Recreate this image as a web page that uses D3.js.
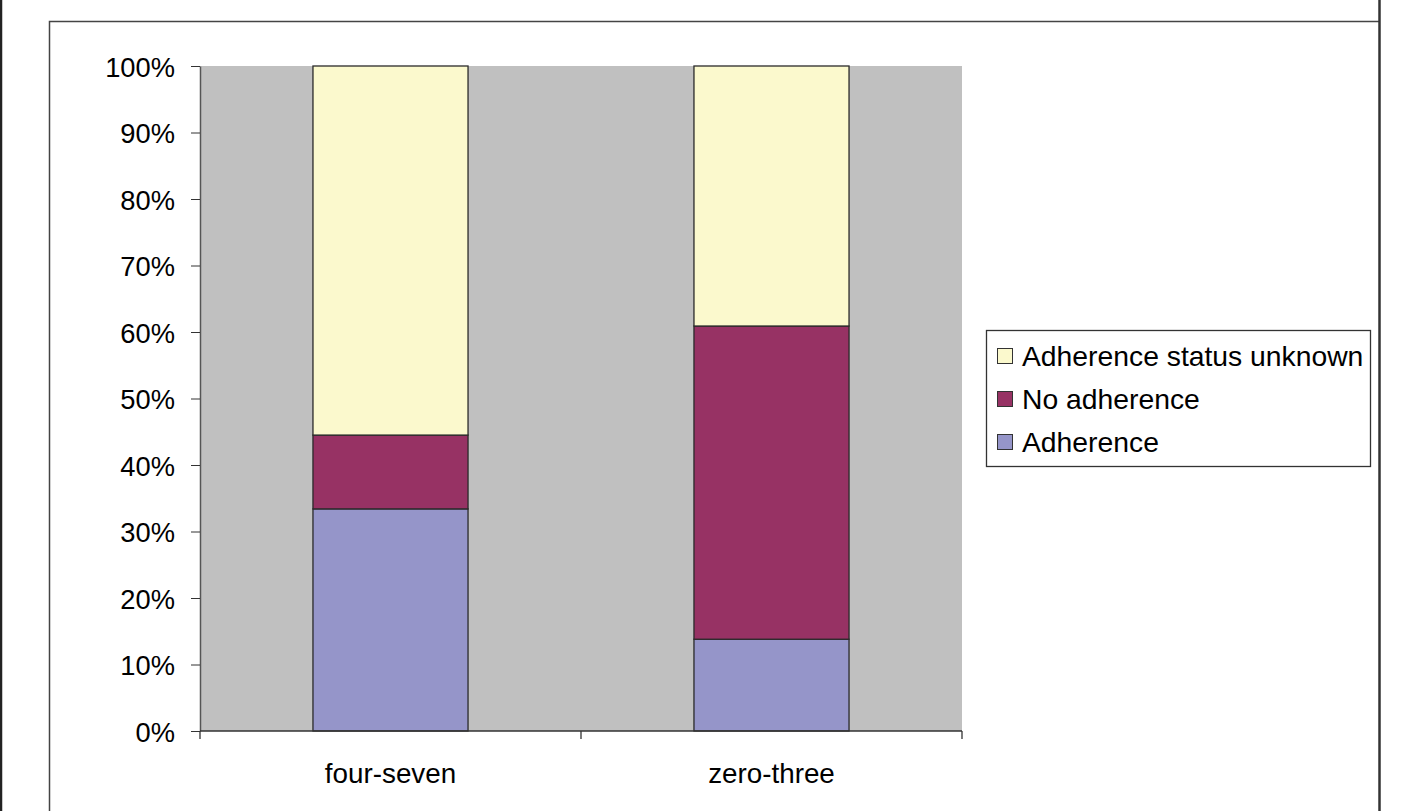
<!DOCTYPE html>
<html>
<head>
<meta charset="utf-8">
<script src="https://cdn.jsdelivr.net/npm/d3@7/dist/d3.min.js"></script>
<style>
  html, body { margin: 0; padding: 0; background: #ffffff; }
  svg { display: block; }
  text { font-family: "Liberation Sans", Arial, sans-serif; fill: #000; }
</style>
</head>
<body>
<svg id="chart" width="1407" height="811"></svg>
<script>
// Share of each adherence status per group (percent)
const categories = ["four-seven", "zero-three"];
const adherence = [33.4, 13.8];
const noAdherence = [11.1, 47.1];
const statusUnknown = [55.5, 39.1];

const seriesNames = ["Adherence", "No adherence", "Adherence status unknown"];
const seriesColors = ["#9595c9", "#973264", "#fbf9cd"];
const yTicks = [0, 10, 20, 30, 40, 50, 60, 70, 80, 90, 100];

const rows = categories.map((c, i) => ({
  category: c,
  "Adherence": adherence[i],
  "No adherence": noAdherence[i],
  "Adherence status unknown": statusUnknown[i]
}));

const svg = d3.select("#chart");

// Outer frame lines
svg.append("line").attr("x1", 1).attr("x2", 1).attr("y1", 0).attr("y2", 811)
  .attr("stroke", "#222").attr("stroke-width", 2.5);
svg.append("path")
  .attr("d", "M49.5,820 V21.5 H1379")
  .attr("fill", "none").attr("stroke", "#444").attr("stroke-width", 1.5);
svg.append("line").attr("x1", 1379.5).attr("x2", 1379.5).attr("y1", 0).attr("y2", 811)
  .attr("stroke", "#333").attr("stroke-width", 2.5);

const plot = { left: 200, right: 962, top: 66, bottom: 731 };

const x = d3.scaleBand()
  .domain(categories)
  .range([plot.left, plot.right])
  .paddingInner(0.593)
  .paddingOuter(0.2965);

const y = d3.scaleLinear().domain([0, 100]).range([plot.bottom, plot.top]);

// Plot background
svg.append("rect")
  .attr("x", plot.left).attr("y", plot.top)
  .attr("width", plot.right - plot.left).attr("height", plot.bottom - plot.top)
  .attr("fill", "#c0c0c0");

// Stacked bars
const stack = d3.stack().keys(seriesNames);
const layers = stack(rows);

svg.append("g").selectAll("g")
  .data(layers)
  .join("g")
  .attr("fill", (d, i) => seriesColors[i])
  .selectAll("rect")
  .data(d => d)
  .join("rect")
  .attr("x", d => x(d.data.category))
  .attr("y", d => y(d[1]))
  .attr("width", x.bandwidth())
  .attr("height", d => y(d[0]) - y(d[1]))
  .attr("stroke", "#2a2a2a")
  .attr("stroke-width", 1.3);

// Y axis
const yAxis = d3.axisLeft(y)
  .tickValues(yTicks)
  .tickFormat(d => d + "%")
  .tickSize(9)
  .tickSizeOuter(0)
  .tickPadding(16);

const gy = svg.append("g")
  .attr("transform", `translate(${plot.left},0)`)
  .call(yAxis);
gy.select(".domain").attr("stroke", "#555").attr("stroke-width", 1.5);
gy.selectAll(".tick line").attr("stroke", "#333");
gy.selectAll(".tick text")
  .attr("font-family", '"Liberation Sans", Arial, sans-serif')
  .attr("font-size", 27.3)
  .attr("fill", "#000")
  .attr("dy", "0.37em");

// X axis baseline and category boundary ticks
svg.append("line")
  .attr("x1", plot.left).attr("x2", plot.right)
  .attr("y1", plot.bottom).attr("y2", plot.bottom)
  .attr("stroke", "#333").attr("stroke-width", 1.3);

const boundaries = d3.range(categories.length + 1).map(i => x.range()[0] + i * x.step());
svg.append("g").selectAll("line")
  .data(boundaries)
  .join("line")
  .attr("x1", d => d).attr("x2", d => d)
  .attr("y1", plot.bottom).attr("y2", plot.bottom + 8)
  .attr("stroke", "#333").attr("stroke-width", 1.3);

svg.append("g").selectAll("text")
  .data(categories)
  .join("text")
  .attr("x", d => x(d) + x.bandwidth() / 2)
  .attr("y", 783)
  .attr("text-anchor", "middle")
  .attr("font-size", 27.8)
  .text(d => d);

// Legend (top entry is the top stack segment)
const legend = svg.append("g");
legend.append("rect")
  .attr("x", 986.5).attr("y", 330.5)
  .attr("width", 384).attr("height", 136)
  .attr("fill", "#fff").attr("stroke", "#333").attr("stroke-width", 1.3);

const legendOrder = [2, 1, 0];
const legendRows = legend.selectAll("g.item")
  .data(legendOrder)
  .join("g")
  .attr("class", "item")
  .attr("transform", (d, i) => `translate(997,${356 + i * 43})`);

legendRows.append("rect")
  .attr("x", 0.5).attr("y", -7.5)
  .attr("width", 15).attr("height", 15)
  .attr("fill", d => seriesColors[d])
  .attr("stroke", "#333").attr("stroke-width", 1);

legendRows.append("text")
  .attr("x", 25)
  .attr("y", 9.5)
  .attr("font-size", 28.3)
  .text(d => seriesNames[d]);
</script>
</body>
</html>
